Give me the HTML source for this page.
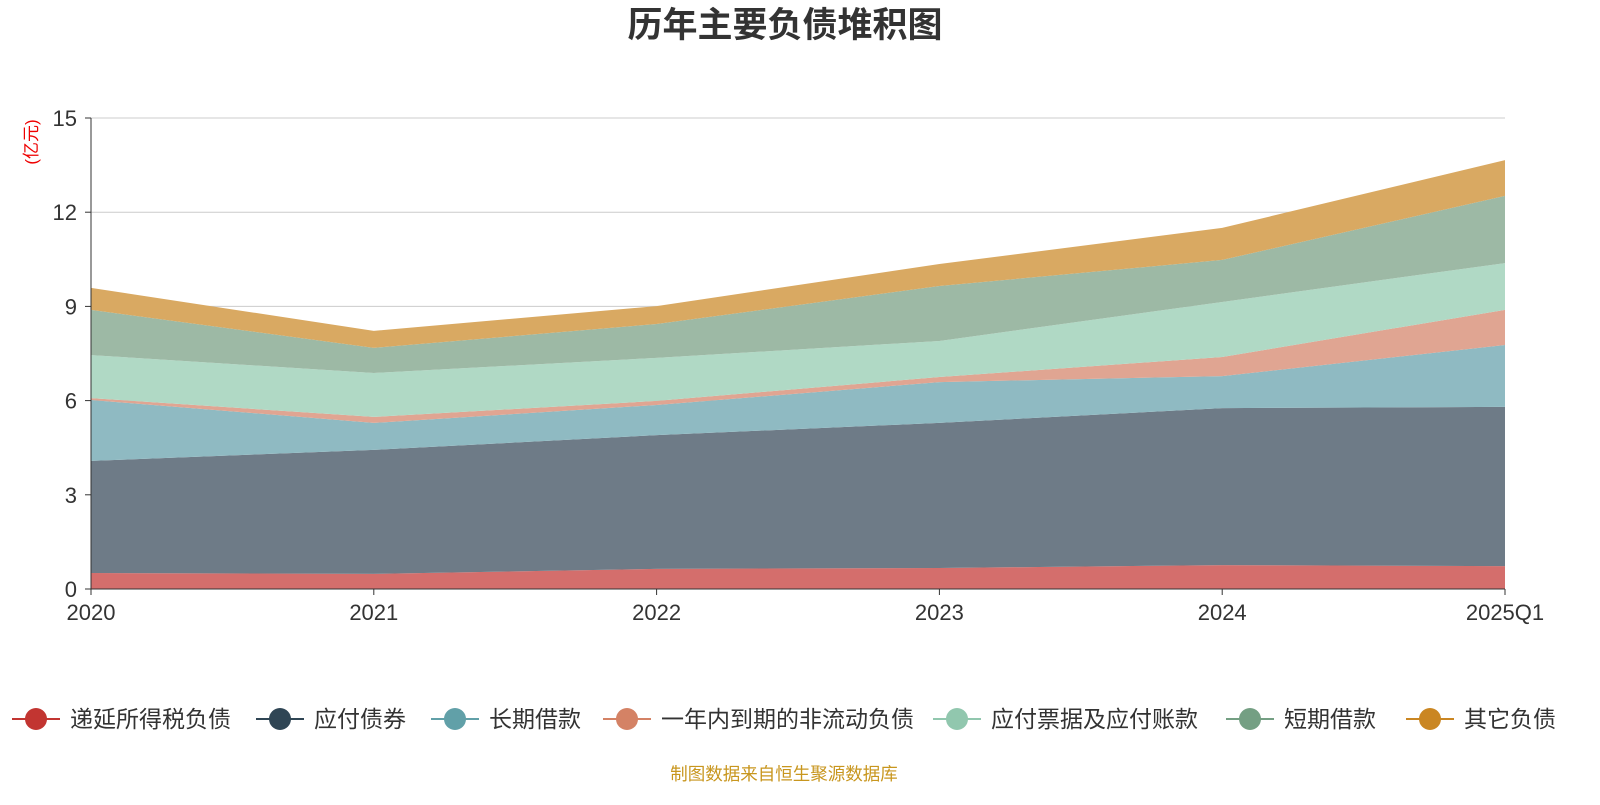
<!DOCTYPE html>
<html><head><meta charset="utf-8"><style>
body{margin:0;background:#fff;font-family:"Liberation Sans","Noto Sans CJK SC",sans-serif;}
svg text{font-family:"Liberation Sans","Noto Sans CJK SC",sans-serif;}
</style></head><body>
<svg id="chart" width="1600" height="800">
<text x="785" y="37" text-anchor="middle" font-size="35" font-weight="bold" fill="#333">历年主要负债堆积图</text>
<text transform="translate(37,142) rotate(-90)" text-anchor="middle" font-size="17" fill="#e00">(亿元)</text>
<g id="grid"></g><g id="areas"></g><g id="axes"></g><g id="legend"></g>
<text x="784" y="780" text-anchor="middle" font-size="17.5" fill="#c8961e">制图数据来自恒生聚源数据库</text>
</svg>
<script>
const categories=["2020","2021","2022","2023","2024","2025Q1"];
const seriesNames=["递延所得税负债","应付债券","长期借款","一年内到期的非流动负债","应付票据及应付账款","短期借款","其它负债"];
const s0=[0.51,0.48,0.64,0.67,0.76,0.73];
const s1=[3.57,3.95,4.26,4.62,5.00,5.07];
const s2=[1.94,0.86,0.96,1.30,1.02,1.97];
const s3=[0.06,0.19,0.13,0.16,0.61,1.12];
const s4=[1.37,1.40,1.37,1.15,1.75,1.49];
const s5=[1.44,0.80,1.08,1.75,1.34,2.14];
const s6=[0.70,0.54,0.57,0.70,1.02,1.14];
const yTicks=[0,3,6,9,12,15];
const series=[s0,s1,s2,s3,s4,s5,s6];
const fills=["#d46e6c","#6e7b87","#8fbac2","#e0a592","#b0d9c5","#9db9a5","#d9a962"];
const marks=["#c23531","#2f4554","#61a0a8","#d48265","#91c7ae","#749f83","#ca8622"];
const X0=91,X1=1505,Y0=589,Y1=118,YMAX=15;
const NS="http://www.w3.org/2000/svg";
const xs=i=>X0+(X1-X0)*i/(categories.length-1);
const ys=v=>Y0-(Y0-Y1)*v/YMAX;
function mk(t,a,p){const e=document.createElementNS(NS,t);for(const k in a)e.setAttribute(k,a[k]);p.appendChild(e);return e;}
const grid=document.getElementById('grid'),axes=document.getElementById('axes'),areas=document.getElementById('areas'),legend=document.getElementById('legend');
yTicks.forEach(t=>{
 if(t>0){const l=mk('line',{x1:X0,x2:X1,y1:ys(t),y2:ys(t),stroke:'#ccc'},grid);
 
 }
 const tx=mk('text',{x:X0-14,y:ys(t)+8,'text-anchor':'end','font-size':22,fill:'#333'},axes);tx.textContent=t;
 
 
 mk('line',{x1:X0-6,x2:X0,y1:ys(t),y2:ys(t),stroke:'#333'},axes);
});
let base=categories.map(()=>0);
series.forEach((s,k)=>{
 const top=base.map((b,i)=>b+s[i]);
 let d='M'+top.map((v,i)=>xs(i)+','+ys(v)).join('L');
 for(let i=base.length-1;i>=0;i--)d+='L'+xs(i)+','+ys(base[i]);
 const p=mk('path',{d:d+'Z',fill:fills[k]},areas);
 
 
 base=top;
});
mk('line',{x1:X0,x2:X0,y1:Y1,y2:Y0,stroke:'#333'},axes);
mk('line',{x1:X0,x2:X1,y1:Y0,y2:Y0,stroke:'#333'},axes);
categories.forEach((c,i)=>{
 mk('line',{x1:xs(i),x2:xs(i),y1:Y0,y2:Y0+6,stroke:'#333'},axes);
 const tx=mk('text',{x:xs(i),y:Y0+31,'text-anchor':'middle','font-size':22,fill:'#333'},axes);tx.textContent=c;
 
 
});
const lc=[36,280,455,627,957,1250,1430];
seriesNames.forEach((n,k)=>{
 const g=mk('g',{},legend);
 
 
 mk('line',{x1:lc[k]-24,x2:lc[k]+24,y1:719,y2:719,stroke:marks[k],'stroke-width':2},g);
 mk('circle',{cx:lc[k],cy:719,r:11,fill:marks[k]},g);
 const t=mk('text',{x:lc[k]+34,y:727,'font-size':23,fill:'#333'},g);t.textContent=n;
});
</script>
</body></html>
